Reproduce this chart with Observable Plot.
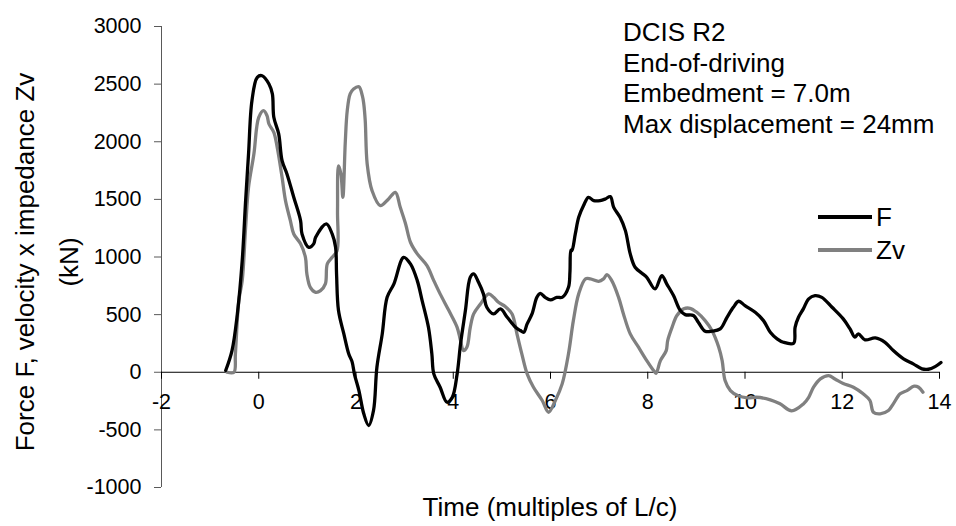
<!DOCTYPE html>
<html>
<head>
<meta charset="utf-8">
<script src="https://cdn.jsdelivr.net/npm/d3@7"></script>
<script src="https://cdn.jsdelivr.net/npm/@observablehq/plot@0.6"></script>
<style>
  html, body { margin: 0; padding: 0; background: #fff; }
  #wrap { position: relative; width: 956px; height: 526px; font-family: "Liberation Sans", Arial, sans-serif; color: #000; }
  .lbl { position: absolute; white-space: nowrap; line-height: 1; }
</style>
</head>
<body>
<div id="wrap"></div>
<script>
// Force F (kN) vs time (multiples of L/c)
const fTime = [-0.68,-0.55,-0.44,-0.34,-0.27,-0.21,-0.14,-0.03,0.07,0.21,0.28,0.31,0.41,0.48,0.58,0.72,0.86,0.89,1.03,1.13,1.17,1.39,1.51,1.58,1.60,1.64,1.75,1.85,1.92,1.97,2.06,2.16,2.26,2.36,2.43,2.54,2.64,2.78,2.98,3.12,3.26,3.36,3.49,3.56,3.60,3.73,3.87,3.98,4.08,4.15,4.25,4.35,4.42,4.52,4.62,4.69,4.83,4.97,5.11,5.28,5.38,5.45,5.52,5.62,5.72,5.79,5.89,6.00,6.13,6.24,6.37,6.40,6.42,6.44,6.51,6.58,6.68,6.78,6.89,7.02,7.13,7.23,7.30,7.43,7.54,7.64,7.74,7.88,7.98,8.15,8.29,8.39,8.53,8.67,8.77,8.94,9.04,9.18,9.32,9.49,9.63,9.76,9.87,10.00,10.21,10.38,10.52,10.66,10.79,11.00,11.03,11.10,11.20,11.31,11.44,11.58,11.79,12.02,12.16,12.26,12.33,12.47,12.68,12.88,13.05,13.26,13.46,13.64,13.77,13.91,14.03];
const fForce = [15,188,506,969,1489,1894,2356,2559,2573,2501,2415,2212,2068,1836,1721,1518,1316,1200,1084,1114,1171,1287,1200,1084,853,535,333,160,90,-20,-159,-361,-462,-332,43,333,650,767,997,940,795,622,390,160,-14,-130,-260,-217,-14,246,535,824,853,780,680,564,506,550,477,390,362,347,420,506,650,685,650,628,650,650,737,870,1060,1055,1200,1344,1446,1518,1489,1489,1504,1524,1431,1344,1229,1027,911,859,824,723,839,767,665,535,500,492,434,356,356,376,477,564,616,578,520,448,347,290,260,252,390,477,550,637,665,650,564,463,376,304,333,281,298,260,188,116,73,29,26,49,85];

// Velocity x impedance Zv (kN)
const zTime = [-0.65,-0.51,-0.48,-0.41,-0.34,-0.27,-0.21,-0.10,0.00,0.10,0.17,0.21,0.31,0.38,0.48,0.55,0.65,0.72,0.86,0.96,0.99,1.06,1.17,1.27,1.37,1.41,1.51,1.61,1.62,1.64,1.69,1.73,1.78,1.82,1.88,1.95,2.06,2.13,2.16,2.19,2.23,2.33,2.50,2.67,2.81,2.91,3.02,3.12,3.26,3.46,3.60,3.73,3.91,4.08,4.15,4.21,4.28,4.35,4.42,4.56,4.73,4.83,4.93,5.07,5.21,5.31,5.41,5.52,5.65,5.83,5.96,6.10,6.24,6.37,6.47,6.58,6.72,6.82,6.99,7.09,7.16,7.26,7.40,7.50,7.64,7.81,7.98,8.12,8.17,8.26,8.38,8.41,8.50,8.60,8.74,8.87,9.01,9.18,9.32,9.46,9.53,9.59,9.70,9.85,10.05,10.24,10.52,10.72,10.96,11.20,11.31,11.41,11.55,11.72,11.85,12.02,12.23,12.43,12.57,12.64,12.78,12.95,13.05,13.19,13.33,13.48,13.57,13.66];
const zVel = [0,0,160,622,795,1258,1605,1894,2212,2270,2226,2154,2082,1951,1691,1489,1316,1200,1114,997,853,737,694,708,767,940,997,1055,1402,1790,1721,1518,2000,2270,2415,2458,2478,2400,2328,2183,1807,1576,1446,1504,1561,1431,1287,1128,1027,925,795,680,535,390,275,188,217,390,506,593,680,650,607,570,506,333,160,-14,-130,-245,-347,-245,-101,160,448,680,810,810,789,810,847,795,650,506,333,217,101,15,-9,101,188,275,390,492,550,555,520,448,362,217,101,-72,-159,-202,-222,-217,-239,-274,-335,-275,-217,-130,-58,-29,-58,-98,-130,-187,-245,-347,-361,-332,-274,-187,-159,-120,-130,-173];

const xTicks = [-2, 0, 2, 4, 6, 8, 10, 12, 14];
const yTicks = [-1000, -500, 0, 500, 1000, 1500, 2000, 2500, 3000];
const seriesNames = ["F", "Zv"];
const seriesColors = ["#000000", "#808080"];
const annotation = ["DCIS R2", "End-of-driving", "Embedment = 7.0m", "Max displacement = 24mm"];
const xTitle = "Time (multiples of L/c)";
const yTitle = ["Force F, velocity x impedance Zv", "(kN)"];

const fData = fTime.map((t, i) => ({t, v: fForce[i]}));
const zData = zTime.map((t, i) => ({t, v: zVel[i]}));

const W = 956, H = 526, mL = 161, mR = 17, mT = 26, mB = 39;
const xDom = [-2, 14], yDom = [-1000, 3000];
const zeroPx = mT + (yDom[1] - 0) / (yDom[1] - yDom[0]) * (H - mT - mB);
const bottomPx = H - mB;

const chart = Plot.plot({
  width: W, height: H,
  marginLeft: mL, marginRight: mR, marginTop: mT, marginBottom: mB,
  style: {fontFamily: "'Liberation Sans', Arial, sans-serif", background: "transparent", overflow: "visible"},
  x: {domain: xDom},
  y: {domain: yDom},
  marks: [
    Plot.ruleX([xDom[0]], {stroke: "#595959", strokeWidth: 1}),
    Plot.axisY({ticks: yTicks, tickSize: 7, tickPadding: 13, stroke: "#595959", label: null, fontSize: 21.5, color: "#000", tickFormat: d => String(d)}),
    Plot.ruleY([0], {stroke: "#000", strokeWidth: 1}),
    Plot.axisX({ticks: xTicks, anchor: "bottom", dy: zeroPx - bottomPx, tickSize: 7, tickPadding: 14, stroke: "#000", label: null, fontSize: 21.5, tickFormat: d => String(d)}),
    Plot.line(zData, {x: "t", y: "v", stroke: seriesColors[1], strokeWidth: 3.3, curve: "catmull-rom"}),
    Plot.line(fData, {x: "t", y: "v", stroke: seriesColors[0], strokeWidth: 3.3, curve: "catmull-rom"})
  ]
});

const wrap = document.getElementById("wrap");
chart.style.position = "absolute";
chart.style.left = "0px";
chart.style.top = "0px";
wrap.appendChild(chart);

function addLabel(text, css) {
  const d = document.createElement("div");
  d.className = "lbl";
  d.textContent = text;
  Object.assign(d.style, css);
  wrap.appendChild(d);
  return d;
}

// annotation block
annotation.forEach((s, i) => {
  addLabel(s, {left: "623px", top: (19 + i * 30.5) + "px", fontSize: "26px"});
});

// legend
seriesNames.forEach((s, i) => {
  const y = 217 + i * 33;
  const ln = document.createElement("div");
  Object.assign(ln.style, {position: "absolute", left: "818px", top: (y - 1.7) + "px", width: "54px", height: "3.4px", background: seriesColors[i]});
  wrap.appendChild(ln);
  addLabel(s, {left: "876px", top: (y - 13) + "px", fontSize: "26px"});
});

// x title
addLabel(xTitle, {left: ((mL + W - mR) / 2) + "px", top: "494px", fontSize: "26px", transform: "translateX(-50%)"});

// y title (rotated, two lines)
const yt = document.createElement("div");
Object.assign(yt.style, {position: "absolute", left: "47px", top: "262px", fontSize: "26px", lineHeight: "44px", textAlign: "center", whiteSpace: "nowrap", transform: "translate(-50%, -50%) rotate(-90deg)"});
yt.innerHTML = yTitle.join("<br>");
wrap.appendChild(yt);
</script>
</body>
</html>
